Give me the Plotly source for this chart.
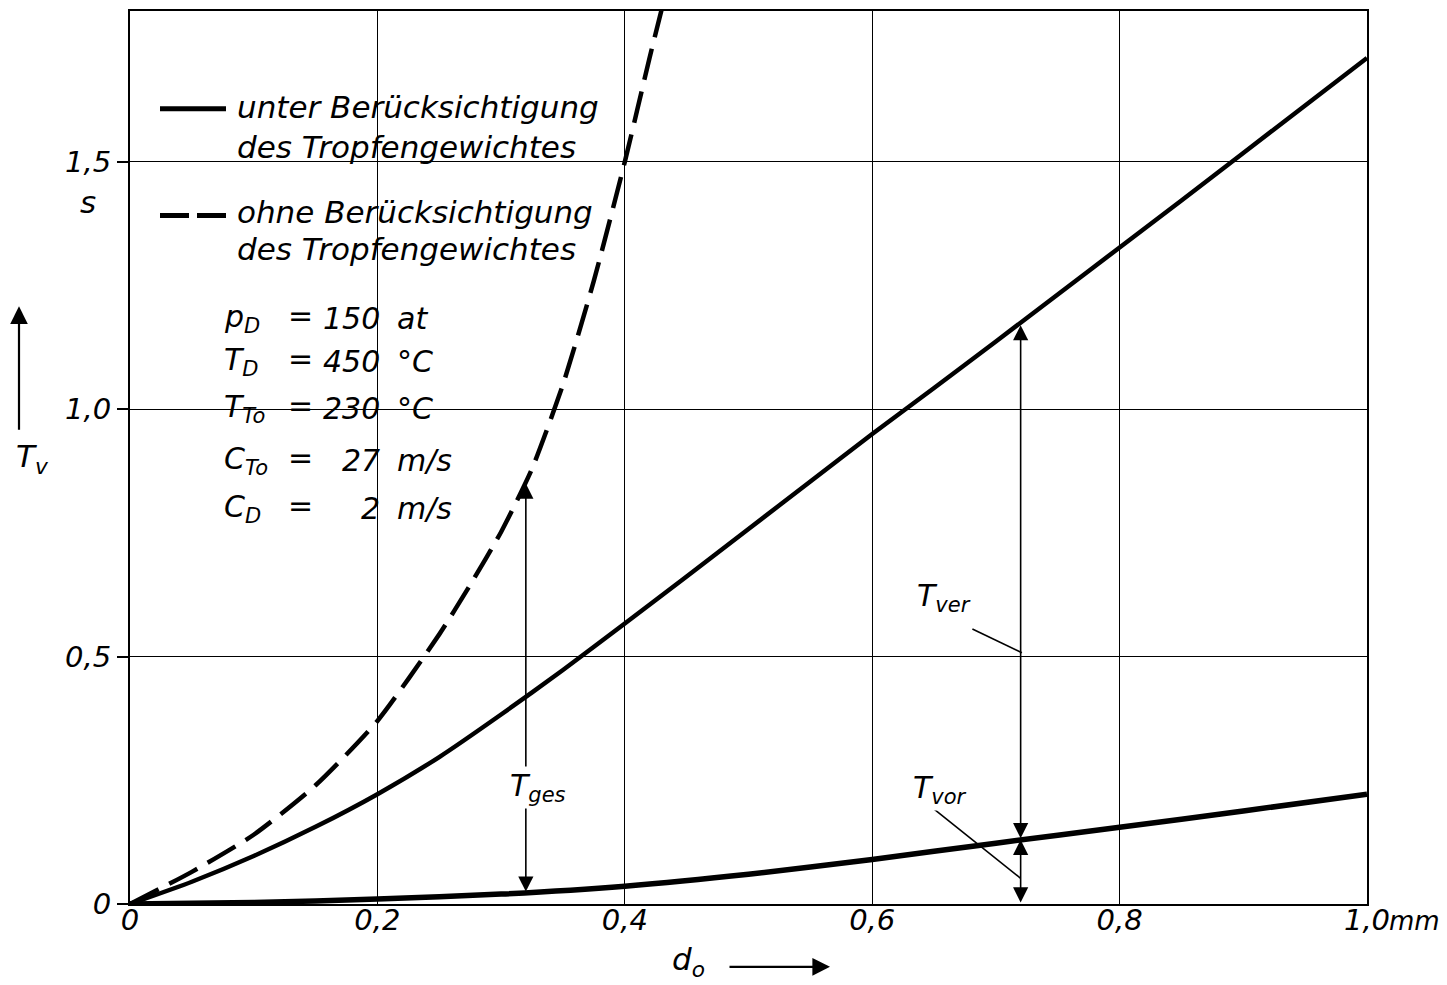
import plotly.graph_objects as go

# ---- data ----
x_with = [0, 0.05, 0.10, 0.15, 0.20, 0.25, 0.30, 0.35, 0.40, 0.45, 0.50, 0.55, 0.60, 0.65, 0.70, 0.75, 0.80, 0.85, 0.90, 0.95, 1.00]
y_with = [0, 0.045, 0.097, 0.156, 0.222, 0.297, 0.383, 0.473, 0.567, 0.662, 0.758, 0.854, 0.950, 1.043, 1.137, 1.232, 1.327, 1.422, 1.518, 1.614, 1.710]

x_without = [0, 0.05, 0.10, 0.15, 0.20, 0.25, 0.275, 0.30, 0.325, 0.35, 0.375, 0.40, 0.42, 0.435]
y_without = [0, 0.065, 0.140, 0.240, 0.370, 0.545, 0.645, 0.752, 0.880, 1.050, 1.260, 1.500, 1.710, 1.860]

x_vor = [0, 0.10, 0.20, 0.30, 0.40, 0.50, 0.60, 0.70, 0.80, 0.90, 1.00]
y_vor = [0, 0.003, 0.010, 0.020, 0.036, 0.060, 0.090, 0.123, 0.155, 0.188, 0.222]

x_ticks = [0, 0.2, 0.4, 0.6, 0.8, 1.0]
x_ticktext = ["0", "0,2", "0,4", "0,6", "0,8", "1,0"]
y_ticks = [0, 0.5, 1.0, 1.5]
y_ticktext = ["0", "0,5", "1,0", "1,5"]

legend_texts = [["unter Berücksichtigung", "des Tropfengewichtes"],
                ["ohne Berücksichtigung", "des Tropfengewichtes"]]

param_symbols = ["p<sub>D</sub>", "T<sub>D</sub>", "T<sub>To</sub>", "C<sub>To</sub>", "C<sub>D</sub>"]
param_values = ["150", "450", "230", "27", "2"]
param_units = ["at", "°C", "°C", "m/s", "m/s"]

# dimension arrows: (x, y_bottom, y_top)
dim_ges = (0.32, 0.022, 0.850)
dim_ver = (0.72, 0.130, 1.170)
dim_vor = (0.72, 0.0, 0.130)
# labels (x, y, text) and leader lines
lbl_ges = (0.330, 0.236, "T<sub>ges</sub>")
lbl_ver = (0.658, 0.620, "T<sub>ver</sub>")
lbl_vor = (0.655, 0.232, "T<sub>vor</sub>")
leader_ver = ((0.681, 0.556), (0.721, 0.508))
leader_vor = ((0.649, 0.194), (0.720, 0.052))

# ---- layout geometry ----
OFF = 8                      # page body margin
W, H = 1447 - OFF, 985 - OFF
L, R, T, B = 122, 80, 1, 81
PW, PH = W - L - R, H - T - B
PAGE_L, PAGE_B = OFF + L, OFF + H - B
YMAX = 1.805


def px(x):
    return (x - PAGE_L) / PW


def py(y):
    return (PAGE_B - y) / PH


FONT = "DejaVu Sans"
ital = dict(family=FONT, size=31, color="black", style="italic")
ital_p = dict(family=FONT, size=30, color="black", style="italic")

fig = go.Figure()
line_w = 4.5
fig.add_trace(go.Scatter(x=x_with, y=y_with, mode="lines",
                         line=dict(color="black", width=line_w, shape="spline", smoothing=0.6),
                         name="unter Berücksichtigung des Tropfengewichtes", showlegend=False))
fig.add_trace(go.Scatter(x=x_without, y=y_without, mode="lines",
                         line=dict(color="black", width=line_w, dash="32px,12px", shape="spline", smoothing=0.6),
                         name="ohne Berücksichtigung des Tropfengewichtes", showlegend=False))
fig.add_trace(go.Scatter(x=x_vor, y=y_vor, mode="lines",
                         line=dict(color="black", width=line_w + 1, shape="spline", smoothing=0.6),
                         name="T_vor", showlegend=False))

shapes = []
# white areas behind the legend / parameter text (cover the grid)
shapes.append(dict(type="rect", xref="paper", yref="paper", x0=px(140), x1=px(545), y0=py(290), y1=py(45),
                   fillcolor="white", line=dict(width=0), layer="between"))
shapes.append(dict(type="rect", xref="paper", yref="paper", x0=px(210), x1=px(480), y0=py(540), y1=py(289),
                   fillcolor="white", line=dict(width=0), layer="between"))
# legend samples
shapes.append(dict(type="line", xref="paper", yref="paper", x0=px(160), x1=px(226), y0=py(107), y1=py(107),
                   line=dict(color="black", width=5)))
shapes.append(dict(type="line", xref="paper", yref="paper", x0=px(160), x1=px(226), y0=py(214), y1=py(214),
                   line=dict(color="black", width=5, dash="29px,8px")))
# leader lines
for (a, b) in (leader_ver, leader_vor):
    shapes.append(dict(type="line", xref="x", yref="y", x0=a[0], y0=a[1], x1=b[0], y1=b[1],
                       line=dict(color="black", width=1.6)))

ann = []
# legend text
leg_rows = [(105, 145), (210, 248)]
for texts, rows in zip(legend_texts, leg_rows):
    for t, r in zip(texts, rows):
        ann.append(dict(xref="paper", yref="paper", x=px(235), y=py(r), text=t, showarrow=False,
                        xanchor="left", yanchor="middle", font=ital))
# parameters
prow = [317, 360, 407, 460, 508]
for s, v, u, r in zip(param_symbols, param_values, param_units, prow):
    ann.append(dict(xref="paper", yref="paper", x=px(222), y=py(r), text=s, showarrow=False,
                    xanchor="left", yanchor="middle", font=ital_p))
    ann.append(dict(xref="paper", yref="paper", x=px(300), y=py(r - 3), text="=", showarrow=False,
                    xanchor="center", yanchor="middle", font=ital_p))
    ann.append(dict(xref="paper", yref="paper", x=px(382), y=py(r), text=v, showarrow=False,
                    xanchor="right", yanchor="middle", font=ital_p))
    ann.append(dict(xref="paper", yref="paper", x=px(395), y=py(r), text=u, showarrow=False,
                    xanchor="left", yanchor="middle", font=ital_p))

# dimension arrows
for (xx, y0, y1) in (dim_ges, dim_ver, dim_vor):
    ann.append(dict(xref="x", yref="y", axref="x", ayref="y", x=xx, y=y1, ax=xx, ay=y0, text="",
                    showarrow=True, arrowside="end+start", arrowhead=2, startarrowhead=2,
                    arrowsize=1.9, startarrowsize=1.9, arrowwidth=1.6, arrowcolor="black",
                    standoff=0, startstandoff=0))
# dimension labels
for (xx, yy, t) in (lbl_ges, lbl_ver, lbl_vor):
    ann.append(dict(xref="x", yref="y", x=xx, y=yy, text=t, showarrow=False, bgcolor="white",
                    xanchor="center", yanchor="middle", font=dict(family=FONT, size=30, color="black", style="italic")))

# axis titles / arrows
ann.append(dict(xref="paper", yref="paper", x=px(88), y=py(200), text="s", showarrow=False,
                xanchor="center", yanchor="middle", font=ital))
ann.append(dict(xref="paper", yref="paper", x=px(32), y=py(458), text="T<sub>v</sub>", showarrow=False,
                xanchor="center", yanchor="middle", font=ital))
ann.append(dict(xref="paper", yref="paper", x=px(19), y=py(305), text="", showarrow=True,
                ax=0, ay=125, arrowhead=2, arrowsize=1.6, arrowwidth=2.2, arrowcolor="black", standoff=0))
ann.append(dict(xref="paper", yref="paper", x=px(688), y=py(962), text="d<sub>o</sub>", showarrow=False,
                xanchor="center", yanchor="middle", font=ital))
ann.append(dict(xref="paper", yref="paper", x=px(830), y=py(967), text="", showarrow=True,
                ax=-102, ay=0, arrowhead=2, arrowsize=1.6, arrowwidth=2.2, arrowcolor="black", standoff=0))
ann.append(dict(xref="paper", yref="paper", x=px(1387), y=py(921), text="mm", showarrow=False,
                xanchor="left", yanchor="middle", font=dict(family=FONT, size=26, color="black", style="italic")))

tickfont = dict(family=FONT, size=29, color="black", style="italic")
fig.update_layout(
    width=W, height=H, margin=dict(l=L, r=R, t=T, b=B),
    paper_bgcolor="white", plot_bgcolor="white",
    shapes=shapes, annotations=ann, showlegend=False,
    xaxis=dict(range=[0, 1.0], tickvals=x_ticks, ticktext=x_ticktext, showgrid=True,
               gridcolor="black", gridwidth=1.3, zeroline=False, showline=True, linecolor="black",
               linewidth=2.2, mirror=True, ticks="", ticklabelstandoff=-11, tickfont=tickfont),
    yaxis=dict(range=[0, YMAX], tickvals=y_ticks, ticktext=y_ticktext, showgrid=True,
               gridcolor="black", gridwidth=1.3, zeroline=False, showline=True, linecolor="black",
               linewidth=2.2, mirror=True, ticks="outside", ticklen=11, tickwidth=1.5, tickcolor="black",
               tickfont=tickfont),
)

fig.write_html("out.html")
